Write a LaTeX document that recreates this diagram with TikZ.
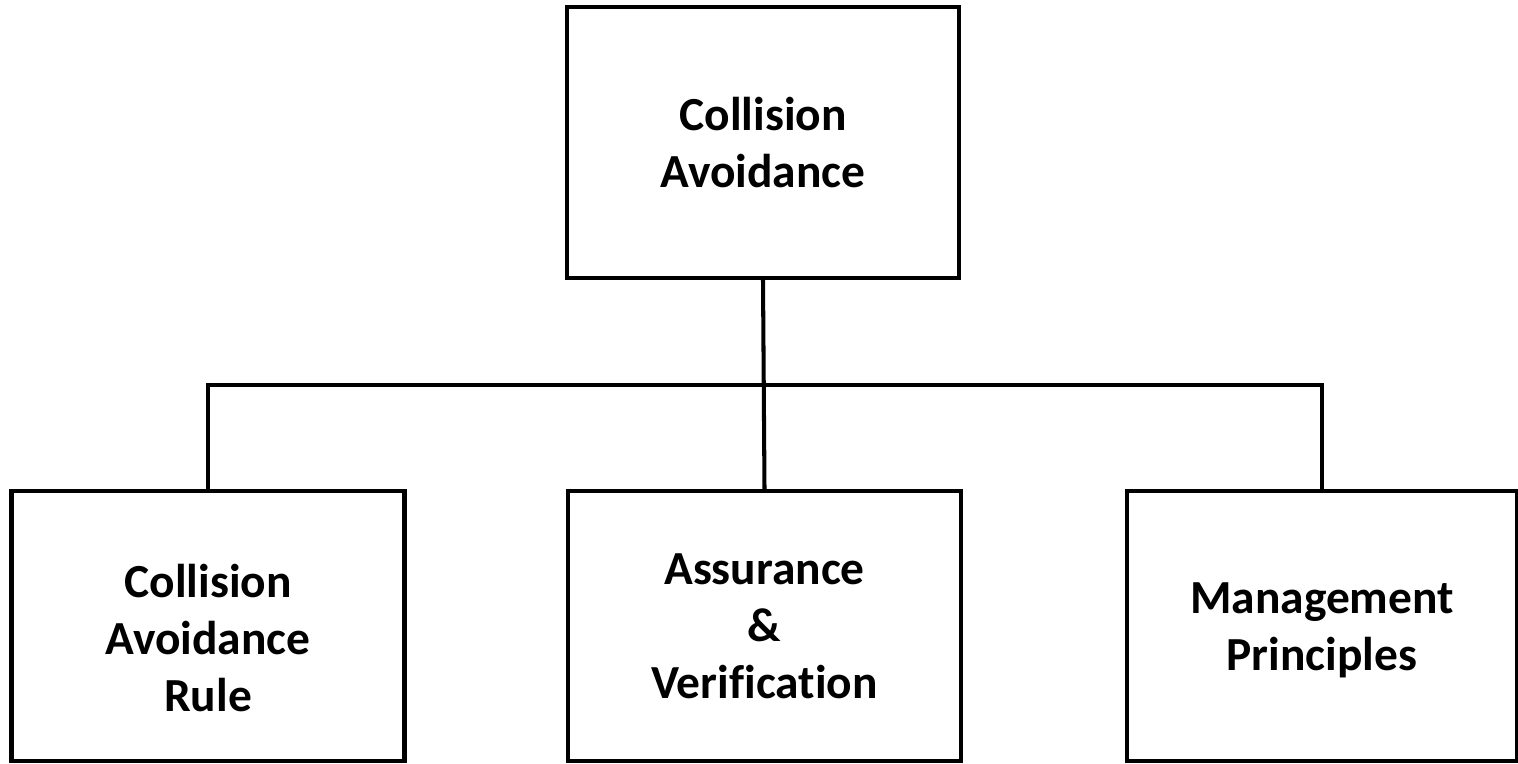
\documentclass[tikz,border=0pt]{standalone}
\usepackage{fontspec}
\setmainfont[Ligatures=NoCommon]{Carlito}
\usepackage{tikz}
\usetikzlibrary{positioning,calc}

\begin{document}
\begin{tikzpicture}[
        topbox/.style={rectangle, draw=black, line width=2.3pt, minimum width=7.84cm, minimum height=5.42cm, align=center, font=\fontsize{27}{32.5}\selectfont\bfseries},
        subbox/.style={rectangle, draw=black, line width=2.3pt, minimum width=7.86cm, minimum height=5.4cm, align=center, font=\fontsize{27}{32.5}\selectfont\bfseries},
        boxtext/.style={align=center, font=\fontsize{27}{32.5}\selectfont\bfseries},
        link/.style={line width=2.3pt}
    ]

    % fixed page size
    \useasboundingbox (0,0) rectangle (30.36,15.26);

    % Top: Collision Avoidance
    \node[topbox] (root) at (15.26, 12.41) {Collision\\Avoidance};

    % === Three sub boxes ===
    \node[subbox] (rule) at (4.16, 2.74) {};
    \node[boxtext] (ruletext) at ($(rule.center)+(0,-0.24)$) {Collision\\Avoidance\\Rule};
    \node[subbox] (assure) at (15.29, 2.74) {Assurance\\\&\\Verification};
    \node[subbox, minimum width=7.8cm] (manage) at (26.44, 2.74) {};
    \node[boxtext] (managetext) at ($(manage.center)+(0,-0.08)$) {Management\\Principles};

    % bus line
    \coordinate (bus) at (15.26, 7.56);

    % === Connectors ===
    \draw[link] (root.south) -- (assure.north);
    \draw[link] (rule.north) |- (bus) -| (manage.north);

\end{tikzpicture}
\end{document}
